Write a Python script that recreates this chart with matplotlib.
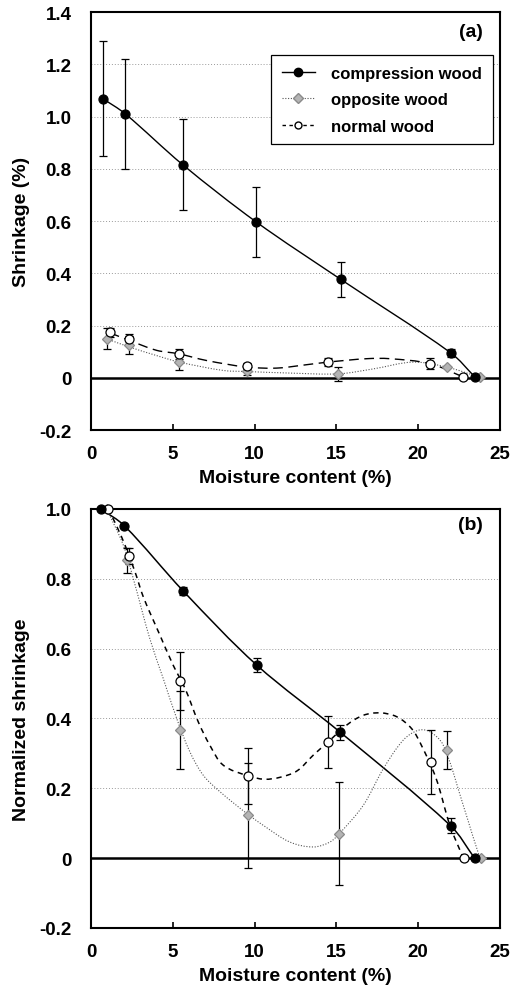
import matplotlib

matplotlib.use("Agg")

import matplotlib.pyplot as plt
import numpy as np
from matplotlib.lines import Line2D
from matplotlib.patches import PathPatch
from matplotlib.path import Path

plt.rcParams["font.family"] = ["Liberation Sans", "DejaVu Sans"]
plt.rcParams["font.weight"] = "bold"

# ---- panel (a): shrinkage (%) ----
a_comp_x = [0.71, 2.08, 5.6, 10.09, 15.26, 22.0, 23.47]
a_comp_y = [1.069, 1.011, 0.816, 0.597, 0.377, 0.095, 0.003]
a_comp_err = [0.22, 0.21, 0.175, 0.135, 0.068, 0.015, 0.0]

a_opp_x = [0.96, 2.3, 5.4, 9.52, 15.12, 21.74, 23.8]
a_opp_y = [0.149, 0.125, 0.060, 0.026, 0.015, 0.041, 0.002]
a_opp_err = [0.04, 0.033, 0.032, 0.015, 0.026, 0.0, 0.0]

a_norm_x = [1.16, 2.34, 5.38, 9.55, 14.5, 20.72, 22.76]
a_norm_y = [0.174, 0.148, 0.092, 0.044, 0.060, 0.054, 0.003]
a_norm_err = [0.018, 0.02, 0.019, 0.012, 0.015, 0.021, 0.0]

# fitted curves
a_opp_curve_x = [0.96, 2.34, 4.01, 5.4, 8.09, 9.52, 12.16, 15.12, 17.26, 19.7, 21.74, 23.78]
a_opp_curve_y = [0.149, 0.118, 0.085, 0.060, 0.028, 0.024, 0.018, 0.015, 0.034, 0.060, 0.041, 0.002]
a_norm_curve_x = [1.16, 2.34, 4.01, 5.34, 7.07, 9.52, 11.35, 13.18, 14.5, 16.85, 18.27, 20.72, 22.76]
a_norm_curve_y = [0.172, 0.143, 0.105, 0.092, 0.066, 0.041, 0.037, 0.050, 0.060, 0.073, 0.073, 0.054, 0.003]

# ---- panel (b): normalized shrinkage ----
b_comp_x = [0.61, 2.04, 5.64, 10.13, 15.25, 21.98, 23.45]
b_comp_y = [1.0, 0.952, 0.765, 0.553, 0.36, 0.093, 0.0]
b_comp_err = [0.0, 0.0, 0.012, 0.019, 0.022, 0.021, 0.0]

b_opp_x = [0.96, 2.18, 5.44, 9.6, 15.18, 21.74, 23.82]
b_opp_y = [1.0, 0.853, 0.367, 0.123, 0.070, 0.309, 0.0]
b_opp_err = [0.0, 0.035, 0.113, 0.15, 0.148, 0.055, 0.0]

b_norm_x = [1.06, 2.34, 5.42, 9.62, 14.5, 20.78, 22.82]
b_norm_y = [1.0, 0.865, 0.507, 0.236, 0.332, 0.276, 0.0]
b_norm_err = [0.0, 0.022, 0.082, 0.08, 0.074, 0.092, 0.0]

b_opp_curve_x = [0.96, 1.98, 2.59, 3.6, 4.42, 5.24, 6.05, 6.87, 7.89, 9.52, 10.53, 12.16,
                 13.59, 14.6, 15.18, 16.64, 17.87, 19.09, 20.0, 20.72, 21.54, 22.76, 23.33, 23.78]
b_opp_curve_y = [1.0, 0.896, 0.80, 0.628, 0.514, 0.40, 0.304, 0.237, 0.19, 0.128, 0.094, 0.046,
                 0.032, 0.046, 0.070, 0.151, 0.256, 0.338, 0.366, 0.362, 0.323, 0.151, 0.065, 0.0]
b_norm_curve_x = [1.06, 1.87, 2.69, 3.2, 4.22, 5.03, 5.75, 6.56, 7.27, 8.09, 9.58, 10.6, 11.6,
                  12.6, 13.59, 14.5, 15.63, 16.64, 17.67, 18.69, 19.6, 20.2, 21.1, 21.94, 22.76]
b_norm_curve_y = [1.0, 0.92, 0.82, 0.748, 0.638, 0.552, 0.486, 0.39, 0.323, 0.266, 0.236, 0.226,
                  0.232, 0.25, 0.295, 0.333, 0.381, 0.409, 0.416, 0.405, 0.371, 0.323, 0.228,
                  0.094, 0.0]

x_ticks = [0, 5, 10, 15, 20, 25]
a_y_ticks = [-0.2, 0, 0.2, 0.4, 0.6, 0.8, 1.0, 1.2, 1.4]
a_y_labels = ["-0.2", "0", "0.2", "0.4", "0.6", "0.8", "1.0", "1.2", "1.4"]
b_y_ticks = [-0.2, 0, 0.2, 0.4, 0.6, 0.8, 1.0]
b_y_labels = ["-0.2", "0", "0.2", "0.4", "0.6", "0.8", "1.0"]

OPP_FACE = "#b4b4b4"
OPP_EDGE = "#8a8a8a"


def smooth_path(xs, ys, sx, sy):
    # Bezier through the points; tangents scaled to segment length so short
    # segments do not overshoot
    pts = np.column_stack([xs, ys]).astype(float)
    scale = np.array([sx, sy])
    verts = [pts[0]]
    codes = [Path.MOVETO]
    n = len(pts)

    def tangent(i):
        prev_p = pts[i - 1] if i > 0 else pts[i]
        next_p = pts[i + 1] if i < n - 1 else pts[i]
        d = (next_p - prev_p) / scale
        return d / (np.hypot(*d) or 1.0)

    for i in range(n - 1):
        p1, p2 = pts[i], pts[i + 1]
        seg = np.hypot(*((p2 - p1) / scale)) / 3
        c1 = p1 + tangent(i) * seg * scale
        c2 = p2 - tangent(i + 1) * seg * scale
        verts += [c1, c2, p2]
        codes += [Path.CURVE4] * 3
    return Path(verts, codes)


def draw_curve(ax, xs, ys, yspan, **style):
    ax.add_patch(PathPatch(smooth_path(xs, ys, 25.0, yspan), fill=False, **style))


def draw_points(ax, xs, ys, err, marker, face, edge, size):
    ax.errorbar(xs, ys, yerr=err, fmt="none", ecolor="black", elinewidth=0.9,
                capsize=3.2, capthick=0.9, zorder=3)
    ax.plot(xs, ys, linestyle="none", marker=marker, markersize=size,
            markerfacecolor=face, markeredgecolor=edge, markeredgewidth=0.9,
            zorder=4, clip_on=False)


def style_axes(ax, ylim, yticks, ylabels, ylabel, tag, tag_y):
    ax.set_xlim(0, 25)
    ax.set_ylim(*ylim)
    ax.set_xticks(x_ticks)
    ax.set_yticks(yticks)
    ax.set_yticklabels(ylabels)
    ax.tick_params(axis="x", direction="in", length=4, width=1.2, pad=11, labelsize=13.5)
    ax.tick_params(axis="y", length=0, pad=14, labelsize=13.5)
    for lab in ax.get_xticklabels() + ax.get_yticklabels():
        lab.set_fontweight("bold")
    for spine in ax.spines.values():
        spine.set_linewidth(1.5)
    ax.yaxis.grid(True, linestyle=(0, (1, 2)), color="#9a9a9a", linewidth=0.7)
    ax.set_axisbelow(True)
    ax.axhline(0, color="black", linewidth=1.8, zorder=2)
    ax.set_xlabel("Moisture content (%)", fontsize=14, fontweight="bold", labelpad=5)
    ax.set_ylabel(ylabel, fontsize=14, fontweight="bold", labelpad=7)
    ax.text(0.958, tag_y, tag, transform=ax.transAxes, ha="right", va="top",
            fontsize=14, fontweight="bold")


fig = plt.figure(figsize=(5.17, 9.87), dpi=100)
ax_a = fig.add_axes([0.176, 0.5633, 0.791, 0.4235])
ax_b = fig.add_axes([0.176, 0.0588, 0.791, 0.4245])

# panel (a)
draw_curve(ax_a, a_comp_x, a_comp_y, 1.6, color="black", linewidth=1.0, zorder=2.5)
draw_curve(ax_a, a_opp_curve_x, a_opp_curve_y, 1.6, color="#555555", linewidth=0.8,
           linestyle=(0, (1, 1.5)), zorder=2.5)
draw_curve(ax_a, a_norm_curve_x, a_norm_curve_y, 1.6, color="black", linewidth=1.0,
           linestyle=(0, (7, 4)), zorder=2.5)
draw_points(ax_a, a_opp_x, a_opp_y, a_opp_err, "D", OPP_FACE, OPP_EDGE, 5.6)
draw_points(ax_a, a_norm_x, a_norm_y, a_norm_err, "o", "white", "black", 6.5)
draw_points(ax_a, a_comp_x, a_comp_y, a_comp_err, "o", "black", "black", 6.5)
style_axes(ax_a, (-0.2, 1.4), a_y_ticks, a_y_labels, "Shrinkage (%)", "(a)", 0.973)

handles = [
    Line2D([], [], color="black", linewidth=1.0, marker="o", markersize=6,
           markerfacecolor="black", markeredgecolor="black"),
    Line2D([], [], color="#555555", linewidth=0.8, linestyle=(0, (1, 1.5)), marker="D",
           markersize=4.8, markerfacecolor=OPP_FACE, markeredgecolor=OPP_EDGE),
    Line2D([], [], color="black", linewidth=1.0, linestyle=(0, (2.5, 2.5)), marker="o",
           markersize=5, markerfacecolor="white", markeredgecolor="black"),
]
leg = ax_a.legend(handles, ["compression wood", "opposite wood", "normal wood"],
                  loc="upper right", bbox_to_anchor=(0.982, 0.897), fancybox=False,
                  framealpha=1, edgecolor="black", handlelength=2.0,
                  prop={"weight": "bold", "size": 12}, borderpad=0.65,
                  labelspacing=0.68, handletextpad=0.95, borderaxespad=0)
leg.get_frame().set_linewidth(0.9)

# panel (b)
draw_curve(ax_b, b_comp_x, b_comp_y, 1.2, color="black", linewidth=1.1, zorder=2.5)
draw_curve(ax_b, b_opp_curve_x, b_opp_curve_y, 1.2, color="#555555", linewidth=0.8,
           linestyle=(0, (1, 1.5)), zorder=2.5)
draw_curve(ax_b, b_norm_curve_x, b_norm_curve_y, 1.2, color="black", linewidth=1.1,
           linestyle=(0, (3.5, 3)), zorder=2.5)
draw_points(ax_b, b_opp_x, b_opp_y, b_opp_err, "D", OPP_FACE, OPP_EDGE, 5.6)
draw_points(ax_b, b_norm_x, b_norm_y, b_norm_err, "o", "white", "black", 6.5)
draw_points(ax_b, b_comp_x, b_comp_y, b_comp_err, "o", "black", "black", 6.5)
style_axes(ax_b, (-0.2, 1.0), b_y_ticks, b_y_labels, "Normalized shrinkage", "(b)", 0.983)

fig.savefig("out.png", dpi=100)
